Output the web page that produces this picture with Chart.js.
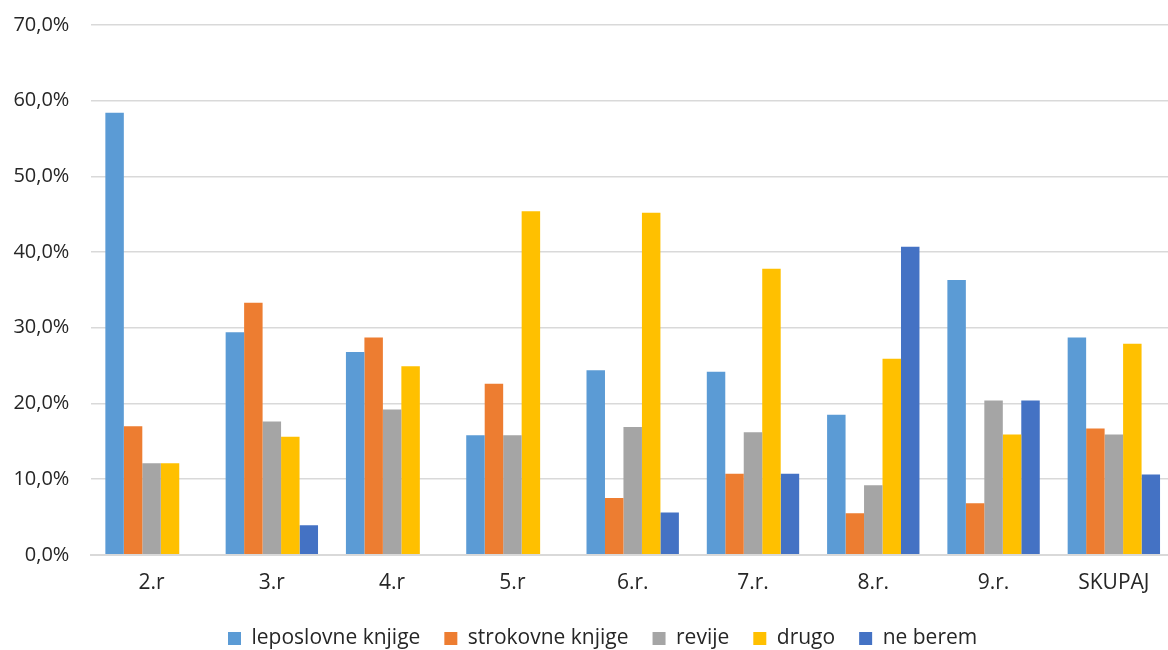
<!DOCTYPE html>
<html>
<head>
<meta charset="utf-8">
<script src="https://cdn.jsdelivr.net/npm/chart.js@4"></script>
<style>
    html, body { margin: 0; padding: 0; background: #fff; overflow: hidden; }
    #okno { width: 1168px; height: 650px; overflow: hidden; }
    #wrap { width: 1180px; height: 659px; margin-top: -9px; }
</style>
</head>
<body>
<div id="okno"><div id="wrap"><canvas id="grafBranje"></canvas></div></div>
<script>
// Podatki (odstotki)
const razredi = ['2.r', '3.r', '4.r', '5.r', '6.r.', '7.r.', '8.r.', '9.r.', 'SKUPAJ'];
const leposlovne = [58.4, 29.4, 26.8, 15.8, 24.4, 24.2, 18.5, 36.3, 28.7];
const strokovne = [17.0, 33.3, 28.7, 22.6, 7.5, 10.7, 5.5, 6.8, 16.7];
const revije = [12.1, 17.6, 19.2, 15.8, 16.9, 16.2, 9.2, 20.4, 15.9];
const drugo = [12.1, 15.6, 24.9, 45.4, 45.2, 37.8, 25.9, 15.9, 27.9];
const neBerem = [null, 3.9, null, null, 5.6, 10.7, 40.7, 20.4, 10.6];

const yMax = 70;
const yStep = 10;

const pisava = "'Open Sans', 'Noto Sans', sans-serif";
const barvaBesedila = '#262626';

function serija(label, data, color) {
    return {
        label: label,
        data: data,
        backgroundColor: color,
        borderWidth: 0,
        categoryPercentage: 0.768,
        barPercentage: 1.0
    };
}

// legenda je v izvirniku nekoliko desno od sredine
const zamikLegende = {
    id: 'zamikLegende',
    beforeDraw(chart) {
        const lg = chart.legend;
        const w = lg.right - lg.left;
        lg.left = 228 - lg.options.labels.padding;
        lg.right = lg.left + w;
    }
};

const ctx = document.getElementById('grafBranje').getContext('2d');
const grafBranje = new Chart(ctx, {
    type: 'bar',
    data: {
        labels: razredi,
        datasets: [
            serija('leposlovne knjige', leposlovne, '#5B9BD5'),
            serija('strokovne knjige', strokovne, '#ED7D31'),
            serija('revije', revije, '#A5A5A5'),
            serija('drugo', drugo, '#FFC000'),
            serija('ne berem', neBerem, '#4472C4')
        ]
    },
    options: {
        responsive: true,
        maintainAspectRatio: false,
        animation: false,
        layout: {
            padding: { top: 3, right: 6, bottom: -9, left: 0 }
        },
        plugins: {
            tooltip: { enabled: false },
            legend: {
                position: 'bottom',
                align: 'start',
                labels: {
                    boxWidth: 13,
                    boxHeight: 13,
                    padding: 24,
                    color: barvaBesedila,
                    font: { family: pisava, size: 21 }
                }
            }
        },
        scales: {
            x: {
                grid: { display: false },
                border: { color: '#d9d9d9', width: 2 },
                ticks: {
                    color: barvaBesedila,
                    padding: 8,
                    font: { family: pisava, size: 21 }
                }
            },
            y: {
                min: 0,
                max: yMax,
                afterFit: function(scale) { scale.width = 91.4; },
                grid: { color: '#d9d9d9', lineWidth: 1.5, drawTicks: false },
                border: { display: false },
                ticks: {
                    stepSize: yStep,
                    padding: 22,
                    color: barvaBesedila,
                    font: { family: pisava, size: 20 },
                    callback: function(v) { return v.toFixed(1).replace('.', ',') + '%'; }
                }
            }
        }
    },
    plugins: [zamikLegende]
});
</script>
</body>
</html>
